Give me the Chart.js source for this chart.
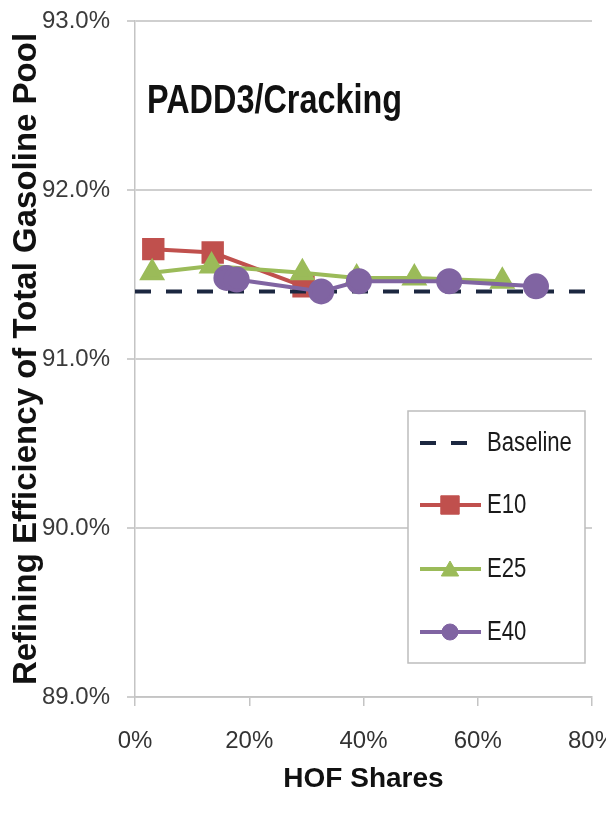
<!DOCTYPE html>
<html>
<head>
<meta charset="utf-8">
<script src="https://cdn.jsdelivr.net/npm/chart.js@4.4.1/dist/chart.umd.min.js"></script>
<style>
  html, body { margin: 0; padding: 0; background: #fff; }
  #wrap { width: 606px; height: 820px; }
</style>
</head>
<body>
<div id="wrap"><canvas id="chart" width="606" height="820"></canvas></div>
<script>
// axis ticks
const xTicks = [0, 20, 40, 60, 80];
const yTicks = [89, 90, 91, 92, 93];

// HOF share (%) vs refining efficiency (%)
const baselineX = [0, 80];
const baselineY = [91.40, 91.40];
const e10X = [3.2, 13.6, 29.5];
const e10Y = [91.65, 91.63, 91.43];
const e25X = [3.0, 13.4, 29.3, 38.8, 48.9, 64.3];
const e25Y = [91.51, 91.55, 91.51, 91.48, 91.48, 91.46];
const e40X = [16.0, 17.8, 32.6, 39.2, 55.0, 70.2];
const e40Y = [91.48, 91.47, 91.40, 91.46, 91.46, 91.43];

const seriesNames = ['Baseline', 'E10', 'E25', 'E40'];
const panelTitle = 'PADD3/Cracking';

const FONT = "'Liberation Sans', Arial, sans-serif";

function pts(xs, ys) {
  return xs.map((x, i) => ({ x: x, y: ys[i] }));
}

// condensed text: squeeze horizontally around the anchor point
function narrowText(ctx, text, x, y, squeeze) {
  ctx.save();
  ctx.translate(x, y);
  ctx.scale(squeeze, 1);
  ctx.fillText(text, 0, 0);
  ctx.restore();
}

// panel label in the top-left corner of the plot
const panelLabel = {
  id: 'panelLabel',
  afterDraw(chart) {
    const ctx = chart.ctx;
    const a = chart.chartArea;
    ctx.save();
    ctx.font = "bold 40px " + FONT;
    ctx.fillStyle = '#111';
    ctx.textBaseline = 'alphabetic';
    ctx.textAlign = 'left';
    narrowText(ctx, panelTitle, a.left + 12, 113, 0.81);
    ctx.restore();
  }
};

// boxed legend sitting inside the plot
const boxLegend = {
  id: 'boxLegend',
  afterDraw(chart) {
    const ctx = chart.ctx;
    const bx = 408, by = 411, bw = 177, bh = 252;
    const rows = [443, 505, 569, 632];
    ctx.save();
    ctx.fillStyle = '#fff';
    ctx.fillRect(bx, by, bw, bh);
    ctx.strokeStyle = '#bdbdbd';
    ctx.lineWidth = 1.5;
    ctx.strokeRect(bx, by, bw, bh);

    seriesNames.forEach((name, i) => {
      const ds = chart.data.datasets.find(d => d.label === name);
      const y = rows[i];
      ctx.save();
      ctx.strokeStyle = ds.borderColor;
      ctx.lineWidth = ds.borderWidth;
      ctx.setLineDash(ds.borderDash || []);
      ctx.lineCap = 'butt';
      ctx.beginPath();
      ctx.moveTo(420, y);
      ctx.lineTo(ds.borderDash ? 472 : 481, y);
      ctx.stroke();
      ctx.restore();
      if (ds.pointRadius > 0) {
        ctx.fillStyle = ds.pointBackgroundColor;
        ctx.strokeStyle = ds.pointBackgroundColor;
        ctx.lineWidth = 1;
        const r = ds.pointStyle === 'circle' ? 8 : (ds.pointStyle === 'rect' ? 13 : 10);
        Chart.helpers.drawPoint(ctx, {
          pointStyle: ds.pointStyle, rotation: 0, borderWidth: 1, radius: r
        }, 450, y + (ds.pointStyle === 'triangle' ? 2 : 0));
      }
      ctx.fillStyle = '#1a1a1a';
      ctx.font = "27px " + FONT;
      ctx.textAlign = 'left';
      ctx.textBaseline = 'middle';
      narrowText(ctx, name, 487, y + 1, 0.82);
    });
    ctx.restore();
  }
};

new Chart(document.getElementById('chart'), {
  type: 'line',
  data: {
    datasets: [
      {
        label: 'Baseline',
        data: pts(baselineX, baselineY),
        borderColor: '#1c2740',
        borderWidth: 4,
        borderDash: [16, 15],
        pointRadius: 0,
        order: 1
      },
      {
        label: 'E10',
        data: pts(e10X, e10Y),
        borderColor: '#c0504d',
        backgroundColor: '#c0504d',
        pointBackgroundColor: '#c0504d',
        pointBorderColor: '#c0504d',
        borderWidth: 4,
        pointStyle: 'rect',
        pointRadius: 13,
        order: 3
      },
      {
        label: 'E25',
        data: pts(e25X, e25Y),
        borderColor: '#9bbb59',
        backgroundColor: '#9bbb59',
        pointBackgroundColor: '#9bbb59',
        pointBorderColor: '#9bbb59',
        borderWidth: 4,
        pointStyle: 'triangle',
        pointRadius: 11,
        order: 2
      },
      {
        label: 'E40',
        data: pts(e40X, e40Y),
        borderColor: '#8064a2',
        backgroundColor: '#8064a2',
        pointBackgroundColor: '#8064a2',
        pointBorderColor: '#8064a2',
        borderWidth: 4,
        pointStyle: 'circle',
        pointRadius: 11,
        order: 0
      }
    ]
  },
  options: {
    responsive: false,
    animation: false,
    layout: { autoPadding: false, padding: { top: 21, right: 14, left: 0, bottom: 0 } },
    elements: { line: { tension: 0, fill: false } },
    plugins: {
      legend: { display: false },
      tooltip: { enabled: false }
    },
    scales: {
      x: {
        type: 'linear',
        min: 0,
        max: 80,
        afterBuildTicks: s => { s.ticks = xTicks.map(v => ({ value: v })); },
        afterFit: s => { s.height = 123; s.paddingRight = 0; s.paddingLeft = 0; },
        grid: { drawOnChartArea: false, drawTicks: true, tickLength: 9, color: '#c4c4c4', lineWidth: 1.5 },
        border: { color: '#c4c4c4', width: 1.5 },
        ticks: {
          autoSkip: false,
          maxRotation: 0,
          padding: 21,
          color: '#333',
          font: { family: FONT, size: 24 },
          callback: v => v + '%'
        },
        title: {
          display: true,
          text: 'HOF Shares',
          color: '#111',
          font: { family: FONT, size: 28, weight: 'bold' },
          padding: { top: 0, bottom: 24 }
        }
      },
      y: {
        type: 'linear',
        min: 89,
        max: 93,
        afterBuildTicks: s => { s.ticks = yTicks.map(v => ({ value: v })); },
        afterFit: s => { s.width = 135; s.paddingTop = 0; s.paddingBottom = 0; },
        grid: { color: '#cfcfcf', lineWidth: 2, tickLength: 8 },
        border: { color: '#c4c4c4', width: 1.5 },
        ticks: {
          autoSkip: false,
          padding: 17,
          color: '#3a3a3a',
          font: { family: FONT, size: 24 },
          callback: v => v.toFixed(1) + '%'
        },
        title: {
          display: true,
          text: 'Refining Efficiency of Total Gasoline Pool',
          color: '#111',
          font: { family: FONT, size: 33, weight: 'bold' },
          padding: { top: 7, bottom: 0 }
        }
      }
    }
  },
  plugins: [panelLabel, boxLegend]
});
</script>
</body>
</html>
